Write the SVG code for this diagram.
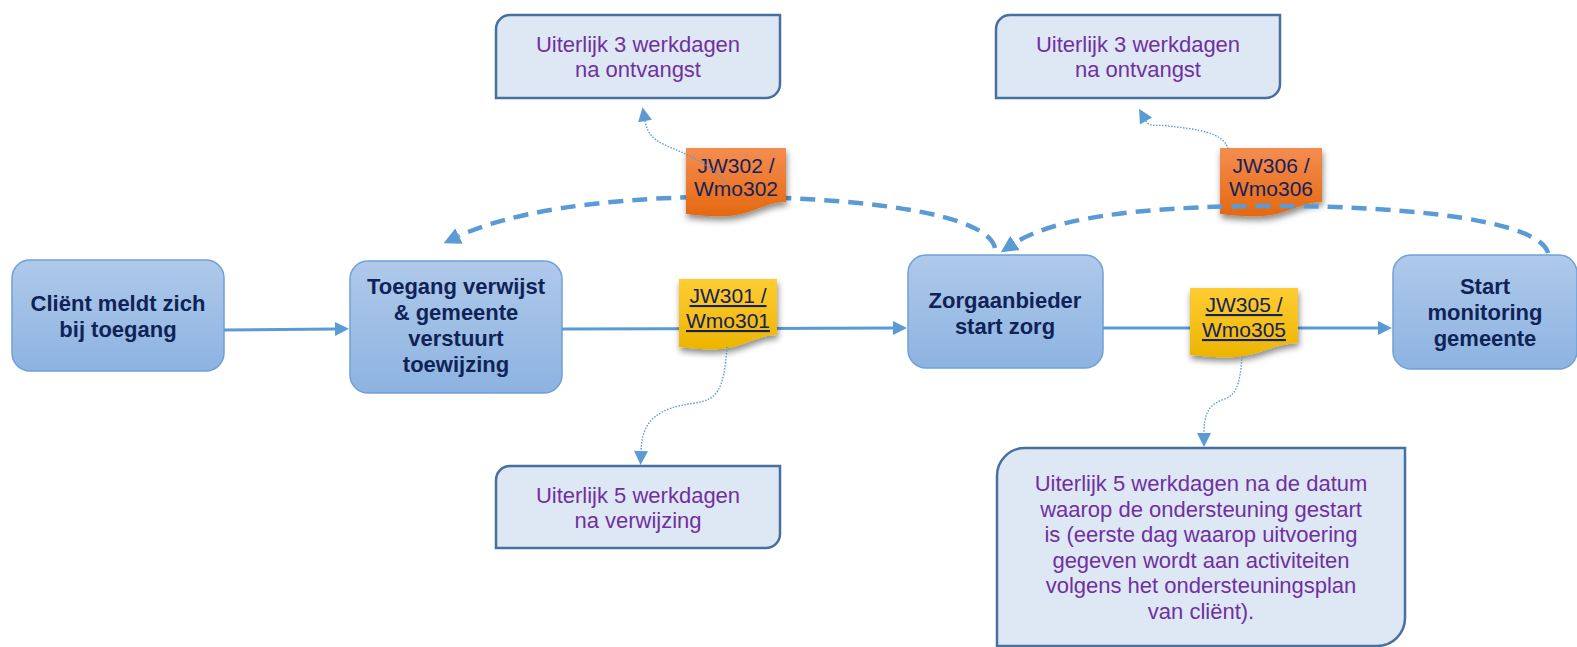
<svg xmlns="http://www.w3.org/2000/svg" width="1577" height="647" viewBox="0 0 1577 647">
<style>
.node rect{fill:url(#nodeGrad);stroke:#6FA0D8;stroke-width:1.5}
.node text{font-family:"Liberation Sans",Arial,sans-serif;font-size:22px;font-weight:bold;fill:#0F2357;text-anchor:middle}
.note path{fill:#DEE8F4;stroke:#48709F;stroke-width:2.5}
.note text{font-family:"Liberation Sans",Arial,sans-serif;font-size:22px;fill:#7030A0;text-anchor:middle}
.sticky text{font-family:"Liberation Sans",Arial,sans-serif;font-size:21px;fill:#14215A;text-anchor:middle}
.sticky text.u{text-decoration:underline}
.orange{fill:url(#orangeGrad);filter:url(#sh)}
.yellow{fill:url(#yellowGrad);filter:url(#sh)}
.flow{fill:none;stroke:#5B9BD5;stroke-width:3;marker-end:url(#arr)}
.dash{fill:none;stroke:#5B9BD5;stroke-width:4.5;stroke-dasharray:15 9;marker-end:url(#arrBig)}
.dot{fill:none;stroke:#5B9BD5;stroke-width:1.4;stroke-dasharray:1.5 1.5;marker-end:url(#arr)}
</style>
<defs>
<linearGradient id="nodeGrad" x1="0" y1="0" x2="0" y2="1">
<stop offset="0" stop-color="#AFC9EA"/>
<stop offset="1" stop-color="#8DB3E1"/>
</linearGradient>
<linearGradient id="orangeGrad" x1="0" y1="0" x2="0" y2="1">
<stop offset="0" stop-color="#F58D50"/>
<stop offset="1" stop-color="#E46810"/>
</linearGradient>
<linearGradient id="yellowGrad" x1="0" y1="0" x2="0" y2="1">
<stop offset="0" stop-color="#FFCD33"/>
<stop offset="1" stop-color="#ECB400"/>
</linearGradient>
<filter id="sh" x="-20%" y="-20%" width="150%" height="170%">
<feDropShadow dx="1" dy="4" stdDeviation="3" flood-color="#000" flood-opacity="0.45"/>
</filter>
<marker id="arr" viewBox="0 0 10 10" refX="0" refY="5" markerWidth="15" markerHeight="14" markerUnits="userSpaceOnUse" orient="auto">
<path d="M0,0 L10,5 L0,10 Z" fill="#5B9BD5"/>
</marker>
<marker id="arrBig" viewBox="0 0 10 10" refX="0" refY="5" markerWidth="17" markerHeight="17" markerUnits="userSpaceOnUse" orient="auto">
<path d="M0,0 L10,5 L0,10 Z" fill="#5B9BD5"/>
</marker>
</defs>
<rect width="1577" height="647" fill="#FFFFFF"/>

<g id="node-client" class="node">
<rect x="12" y="260" width="212" height="111" rx="18"/>
<text x="118" y="311">Cliënt meldt zich</text>
<text x="118" y="337">bij toegang</text>
</g>
<g id="node-toegang" class="node">
<rect x="350" y="261" width="212" height="132" rx="18"/>
<text x="456" y="294">Toegang verwijst</text>
<text x="456" y="320">&amp; gemeente</text>
<text x="456" y="346">verstuurt</text>
<text x="456" y="372">toewijzing</text>
</g>
<g id="node-zorgaanbieder" class="node">
<rect x="908" y="255" width="195" height="113" rx="18"/>
<text x="1005" y="308">Zorgaanbieder</text>
<text x="1005" y="334">start zorg</text>
</g>
<g id="node-monitoring" class="node">
<rect x="1393" y="255" width="184" height="114" rx="18"/>
<text x="1485" y="294">Start</text>
<text x="1485" y="320">monitoring</text>
<text x="1485" y="346">gemeente</text>
</g>

<g id="note-302" class="note">
<path d="M510,15 H780 V84 A14,14 0 0 1 766,98 H496 V29 A14,14 0 0 1 510,15 Z"/>
<text x="638" y="52">Uiterlijk 3 werkdagen</text>
<text x="638" y="77">na ontvangst</text>
</g>
<g id="note-306" class="note">
<path d="M1010,15 H1280 V84 A14,14 0 0 1 1266,98 H996 V29 A14,14 0 0 1 1010,15 Z"/>
<text x="1138" y="52">Uiterlijk 3 werkdagen</text>
<text x="1138" y="77">na ontvangst</text>
</g>
<g id="note-301" class="note">
<path d="M510,466 H780 V534 A14,14 0 0 1 766,548 H496 V480 A14,14 0 0 1 510,466 Z"/>
<text x="638" y="503">Uiterlijk 5 werkdagen</text>
<text x="638" y="528">na verwijzing</text>
</g>
<g id="note-305" class="note">
<path d="M1025,448 H1405 V618 A28,28 0 0 1 1377,646 H997 V476 A28,28 0 0 1 1025,448 Z"/>
<text x="1201" y="491">Uiterlijk 5 werkdagen na de datum</text>
<text x="1201" y="517">waarop de ondersteuning gestart</text>
<text x="1201" y="542">is (eerste dag waarop uitvoering</text>
<text x="1201" y="568">gegeven wordt aan activiteiten</text>
<text x="1201" y="593">volgens het ondersteuningsplan</text>
<text x="1201" y="619">van cliënt).</text>
</g>

<g id="connectors">
<path class="flow" d="M224,330 L335,329"/>
<path class="flow" d="M562,329 L893,328"/>
<path class="flow" d="M1103,328 L1378,328"/>
<path class="dash" d="M995,248 C985,205 800,195 700,197 C600,199 510,212 459,236"/>

<g id="label-302" class="sticky">
<path class="orange" d="M686,148 H786 V202 C766,202 750,215 728,216 C711,217 696,215 686,214 Z"/>
<text x="736" y="173">JW302 /</text>
<text x="736" y="196">Wmo302</text>
</g>
<g id="label-301" class="sticky">
<path class="yellow" d="M679,279 H777 V335 C757,335 742,348 720,349 C703,350 689,348 679,347 Z"/>
<text class="u" x="728" y="303">JW301 /</text>
<text class="u" x="728" y="328">Wmo301</text>
</g>
<g id="label-305" class="sticky">
<path class="yellow" d="M1190,288 H1298 V343 C1276,343 1259,356 1235,357 C1217,358 1201,356 1190,355 Z"/>
<text class="u" x="1244" y="312">JW305 /</text>
<text class="u" x="1244" y="337">Wmo305</text>
</g>
<g id="label-306" class="sticky">
<path class="orange" d="M1220,148 H1322 V202 C1302,202 1285,215 1263,216 C1245,217 1230,215 1220,214 Z"/>
<text x="1271" y="173">JW306 /</text>
<text x="1271" y="196">Wmo306</text>
</g>

<path class="dash" d="M1548,253 C1540,222 1420,206 1270,206 C1130,206 1050,220 1015,243"/>

<path class="dot" d="M725,181 C705,160 680,152 665,145 C652,139 647,132 645,121"/>
<path class="dot" d="M1228,149 C1224,132 1195,129 1168,126 C1158,124 1150,128 1146,121"/>
<path class="dot" d="M727,347 C724,392 716,400 695,403 C660,408 642,418 641,451"/>
<path class="dot" d="M1242,356 C1240,390 1234,396 1222,400 C1208,405 1204,415 1204,433"/>
</g>
</svg>
